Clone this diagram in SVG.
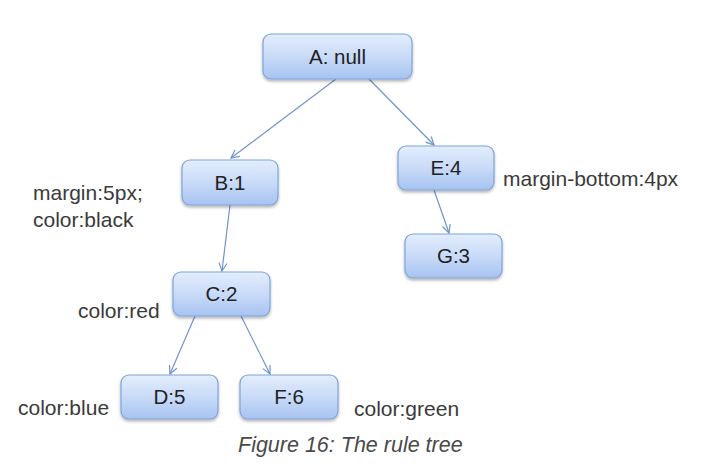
<svg xmlns="http://www.w3.org/2000/svg" width="702" height="476" viewBox="0 0 702 476">
<defs>
<linearGradient id="nodeGrad" x1="0" y1="0" x2="0" y2="1">
<stop offset="0" stop-color="#e3edfd"/>
<stop offset="0.5" stop-color="#c9dbf8"/>
<stop offset="1" stop-color="#a7c3f1"/>
</linearGradient>
<filter id="shadow" x="-10%" y="-10%" width="120%" height="140%">
<feGaussianBlur in="SourceAlpha" stdDeviation="1.5"/>
<feOffset dx="0" dy="2" result="b"/>
<feComponentTransfer><feFuncA type="linear" slope="0.3"/></feComponentTransfer>
<feMerge><feMergeNode/><feMergeNode in="SourceGraphic"/></feMerge>
</filter>
<marker id="arrow" markerWidth="12" markerHeight="12" refX="9" refY="5" orient="auto" markerUnits="userSpaceOnUse">
<path d="M1,1 L9,5 L1,9" fill="none" stroke="#6f94cc" stroke-width="1.2"/>
</marker>
</defs>
<style>
.node rect{fill:url(#nodeGrad);stroke:#7fa3d9;stroke-width:1.2;filter:url(#shadow)}
.node text{font-family:"Liberation Sans",Arial,sans-serif;font-size:20.5px;fill:#222;text-anchor:middle}
.edge{stroke:#6f94cc;stroke-width:1.2;fill:none;marker-end:url(#arrow)}
.label{font-family:"Liberation Sans",Arial,sans-serif;font-size:21px;fill:#3a3a3a}
.caption{font-family:"Liberation Sans",Arial,sans-serif;font-size:21.5px;font-style:italic;fill:#4a4a4a}
</style>
<rect width="702" height="476" fill="#ffffff"/>
<g id="connectors">
<line class="edge" x1="336" y1="79" x2="231" y2="158"/>
<line class="edge" x1="369" y1="79" x2="434" y2="145"/>
<line class="edge" x1="230" y1="205" x2="222" y2="271"/>
<line class="edge" x1="434" y1="190" x2="449" y2="233"/>
<line class="edge" x1="195" y1="316" x2="170" y2="374"/>
<line class="edge" x1="241" y1="316" x2="270" y2="374"/>
</g>
<g id="node-A" class="node"><rect x="263" y="34" width="149" height="45" rx="8"/><text x="337.5" y="63.5">A: null</text></g>
<g id="node-B" class="node"><rect x="182" y="160" width="96" height="45" rx="8"/><text x="230" y="189.5">B:1</text></g>
<g id="node-E" class="node"><rect x="398" y="146" width="96" height="44" rx="8"/><text x="446" y="175">E:4</text></g>
<g id="node-G" class="node"><rect x="405" y="234" width="97" height="44" rx="8"/><text x="453.5" y="263">G:3</text></g>
<g id="node-C" class="node"><rect x="173" y="272" width="97" height="44" rx="8"/><text x="221.5" y="301">C:2</text></g>
<g id="node-D" class="node"><rect x="121" y="375" width="97" height="44" rx="8"/><text x="169.5" y="404">D:5</text></g>
<g id="node-F" class="node"><rect x="240" y="375" width="98" height="44" rx="8"/><text x="289" y="404">F:6</text></g>
<g id="labels">
<text class="label" x="33" y="200">margin:5px;</text>
<text class="label" x="33" y="227">color:black</text>
<text class="label" x="503" y="186">margin-bottom:4px</text>
<text class="label" x="78" y="318">color:red</text>
<text class="label" x="18" y="415">color:blue</text>
<text class="label" x="354" y="416">color:green</text>
</g>
<text class="caption" x="238" y="452">Figure 16: The rule tree</text>
</svg>
